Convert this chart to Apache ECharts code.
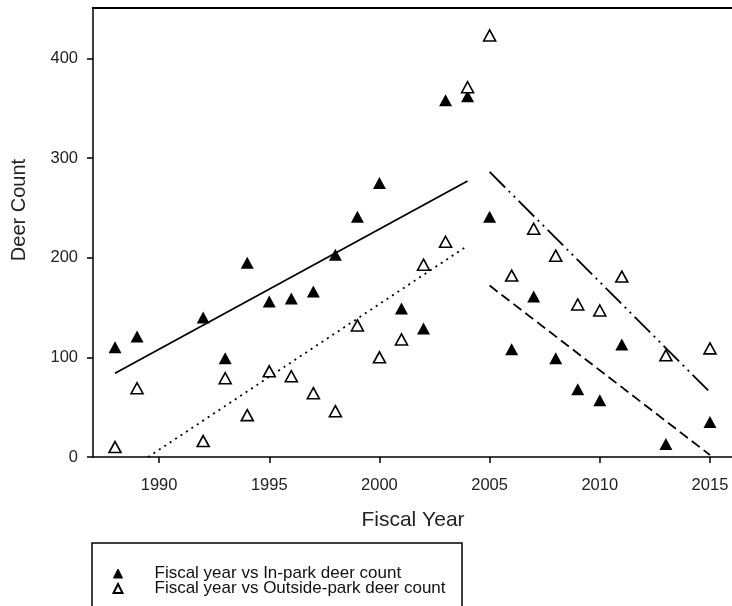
<!DOCTYPE html>
<html>
<head>
<meta charset="utf-8">
<script src="https://cdn.jsdelivr.net/npm/echarts@6/dist/echarts.min.js"></script>
<style>
html,body{margin:0;padding:0;background:#fff;}
#chart{width:732px;height:606px;}
</style>
</head>
<body>
<div id="chart"></div>
<script>
// ---- data ----
var yearsIn = [1988,1989,1992,1993,1994,1995,1996,1997,1998,1999,2000,2001,2002,2003,2004,2005,2006,2007,2008,2009,2010,2011,2013,2015];
var inPark  = [110,121,140,99,195,156,159,166,203,241,275,149,129,358,362,241,108,161,99,68,57,113,13,35];
var yearsOut = [1988,1989,1992,1993,1994,1995,1996,1997,1998,1999,2000,2001,2002,2003,2004,2005,2006,2007,2008,2009,2010,2011,2013,2015];
var outsidePark = [10,69,16,79,42,86,81,64,46,132,100,118,193,216,371,423,182,229,202,153,147,181,102,109];

// regression fit line endpoints
var fitInPreX = [1988, 2004],   fitInPreY = [84, 277];
var fitOutPreX = [1989.5, 2004], fitOutPreY = [0, 212];
var fitInPostX = [2005, 2015],  fitInPostY = [172, 2];
var fitOutPostX = [2005, 2015], fitOutPostY = [286, 65];

var xTicks = [1990, 1995, 2000, 2005, 2010, 2015];
var yTicks = [0, 100, 200, 300, 400];

var legendNames = ['Fiscal year vs In-park deer count', 'Fiscal year vs Outside-park deer count'];
var xTitle = 'Fiscal Year';
var yTitle = 'Deer Count';

function pairs(xs, ys){ return xs.map(function(x,i){ return [x, ys[i]]; }); }

var FONT = 'Liberation Sans, Arial, sans-serif';
var chart = echarts.init(document.getElementById('chart'), null, {renderer:'canvas'});

function fitLine(xs, ys, dash){
  return {
    type:'line', data: pairs(xs, ys), showSymbol:false, symbol:'none', silent:true,
    lineStyle:{color:'#000', width:1.8, type:dash}, z:1, animation:false
  };
}

chart.setOption({
  animation:false,
  backgroundColor:'#fff',
  grid:{left:93, top:7.5, bottom:149, right:-2, containLabel:false},
  xAxis:[{
    type:'value', min:1987, max:2016, position:'bottom',
    axisLine:{show:true, onZero:false, lineStyle:{color:'#000', width:1.5}},
    axisTick:{show:true, inside:false, length:6, customValues:xTicks, lineStyle:{color:'#000', width:1.5}},
    axisLabel:{show:true, customValues:xTicks, margin:20, fontSize:16.5, fontFamily:FONT, color:'#222',
      formatter:function(v){ return String(v); }},
    splitLine:{show:false}
  },{
    type:'value', min:1987, max:2016, position:'top',
    axisLine:{show:true, onZero:false, lineStyle:{color:'#000', width:2}},
    axisTick:{show:false}, axisLabel:{show:false}, splitLine:{show:false}
  }],
  yAxis:{
    type:'value', min:0, max:451,
    axisLine:{show:true, onZero:false, lineStyle:{color:'#000', width:1.5}},
    axisTick:{show:true, inside:false, length:6, customValues:yTicks, lineStyle:{color:'#000', width:1.5}},
    axisLabel:{show:true, customValues:yTicks, margin:15, fontSize:16.5, fontFamily:FONT, color:'#222',
      formatter:function(v){ return String(v); }},
    splitLine:{show:false}
  },
  legend:{
    show:true, orient:'vertical', left:112.5, top:565, padding:0,
    itemWidth:9, itemHeight:9, itemGap:-2,
    data:[
      {name:legendNames[0], itemStyle:{color:'#000', borderColor:'#000', borderWidth:1}},
      {name:legendNames[1]}
    ],
    textStyle:{fontSize:17, fontFamily:FONT, color:'#111', lineHeight:15, padding:[0,0,0,27]}
  },
  graphic:[
    {type:'rect', shape:{x:92, y:543, width:370, height:100}, style:{fill:'none', stroke:'#000', lineWidth:1.5}, silent:true},
    {type:'text', x:413, y:520, style:{text:xTitle, font:'21px '+FONT, fill:'#222', align:'center', verticalAlign:'middle'}},
    {type:'text', x:19, y:210, rotation:Math.PI/2, style:{text:yTitle, font:'20px '+FONT, fill:'#222', align:'center', verticalAlign:'middle'}}
  ],
  series:[
    {
      name:legendNames[0], type:'scatter', symbol:'triangle', symbolSize:[13,12],
      data:pairs(yearsIn, inPark), itemStyle:{color:'#000', opacity:1}, z:3
    },
    {
      name:legendNames[1], type:'scatter', symbol:'triangle', symbolSize:[12,11],
      data:pairs(yearsOut, outsidePark), itemStyle:{color:'#fff', borderColor:'#000', borderWidth:1.6, opacity:1}, z:3
    },
    fitLine(fitInPreX, fitInPreY, 'solid'),
    fitLine(fitOutPreX, fitOutPreY, [2,4.5]),
    fitLine(fitInPostX, fitInPostY, [10,5]),
    fitLine(fitOutPostX, fitOutPostY, [22,5,2,5,2,5])
  ]
});
</script>
</body>
</html>
